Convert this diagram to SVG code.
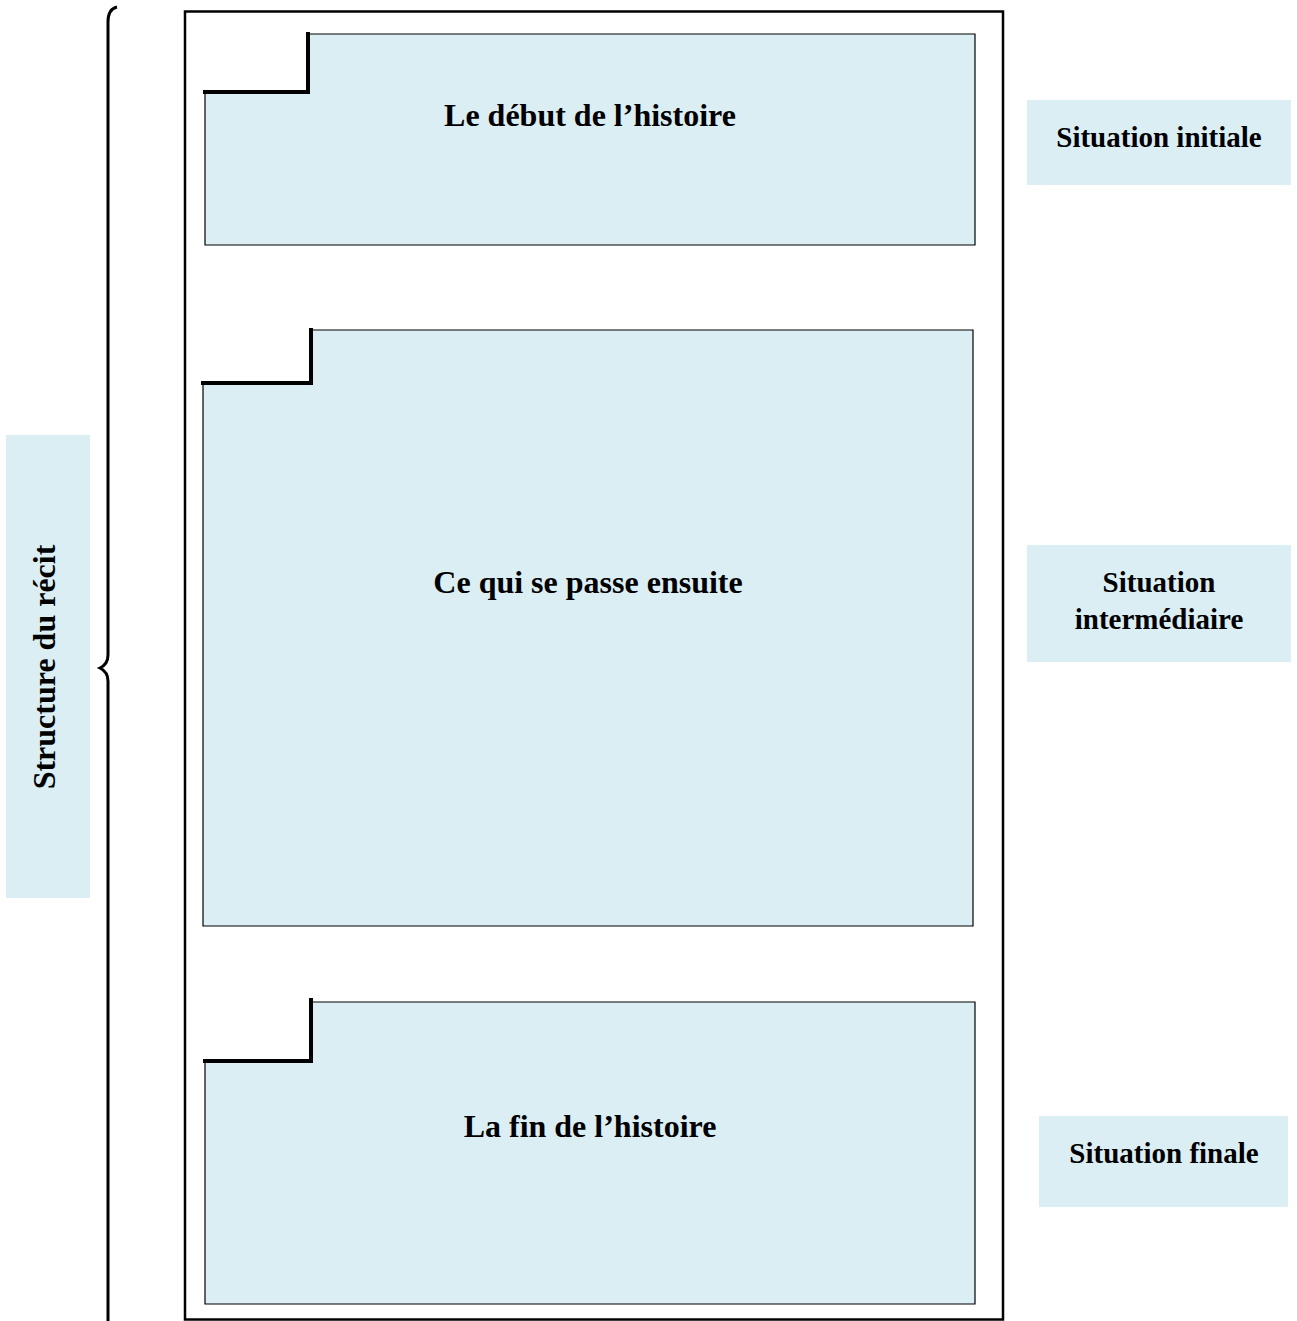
<svg xmlns="http://www.w3.org/2000/svg" width="1297" height="1321" viewBox="0 0 1297 1321">
<style>
.box{fill:#DAEEF3;stroke:#000;stroke-width:1.2}
.notch{fill:none;stroke:#000;stroke-width:4;stroke-linecap:square}
.lbl{fill:#DAEEF3;stroke:none}
text{font-family:"Liberation Serif","Times New Roman",serif;font-weight:bold;fill:#000;text-anchor:middle}
.t{font-size:32px}
.s{font-size:29px}
.v{font-size:32px}
</style>
<rect width="1297" height="1321" fill="#fff"/>
<g id="frame"><rect x="185" y="11.5" width="818" height="1308" fill="none" stroke="#000" stroke-width="2.5"/></g>
<g id="brace"><path d="M117 7 Q108 9 108 22 L108 655 Q108 664 100 668 Q108 672 108 681 L108 1321" fill="none" stroke="#000" stroke-width="3"/></g>
<g id="n1">
<path class="box" d="M308 34 H975 V245 H205 V92 H308 Z"/>
<path class="notch" d="M205 92 H308 V34"/>
<text class="t" x="590" y="126">Le début de l’histoire</text>
</g>
<g id="n2">
<path class="box" d="M311 330 H973 V926 H203 V383 H311 Z"/>
<path class="notch" d="M203 383 H311 V330"/>
<text class="t" x="588" y="593">Ce qui se passe ensuite</text>
</g>
<g id="n3">
<path class="box" d="M311 1002 H975 V1304 H205 V1061 H311 Z"/>
<path class="notch" d="M205 1061 H311 V1000"/>
<text class="t" x="590" y="1137">La fin de l’histoire</text>
</g>
<g id="l1"><rect class="lbl" x="1027" y="100" width="264" height="85"/><text class="s" x="1159" y="147">Situation initiale</text></g>
<g id="l2"><rect class="lbl" x="1027" y="545" width="264" height="117"/><text class="s" x="1159" y="592">Situation</text><text class="s" x="1159" y="629">intermédiaire</text></g>
<g id="l3"><rect class="lbl" x="1039" y="1116" width="249" height="91"/><text class="s" x="1164" y="1163">Situation finale</text></g>
<g id="l4"><rect class="lbl" x="6" y="435" width="84" height="463"/><text class="v" transform="translate(55 667) rotate(-90)" x="0" y="0">Structure du récit</text></g>
<g id="connectors"/>
</svg>
